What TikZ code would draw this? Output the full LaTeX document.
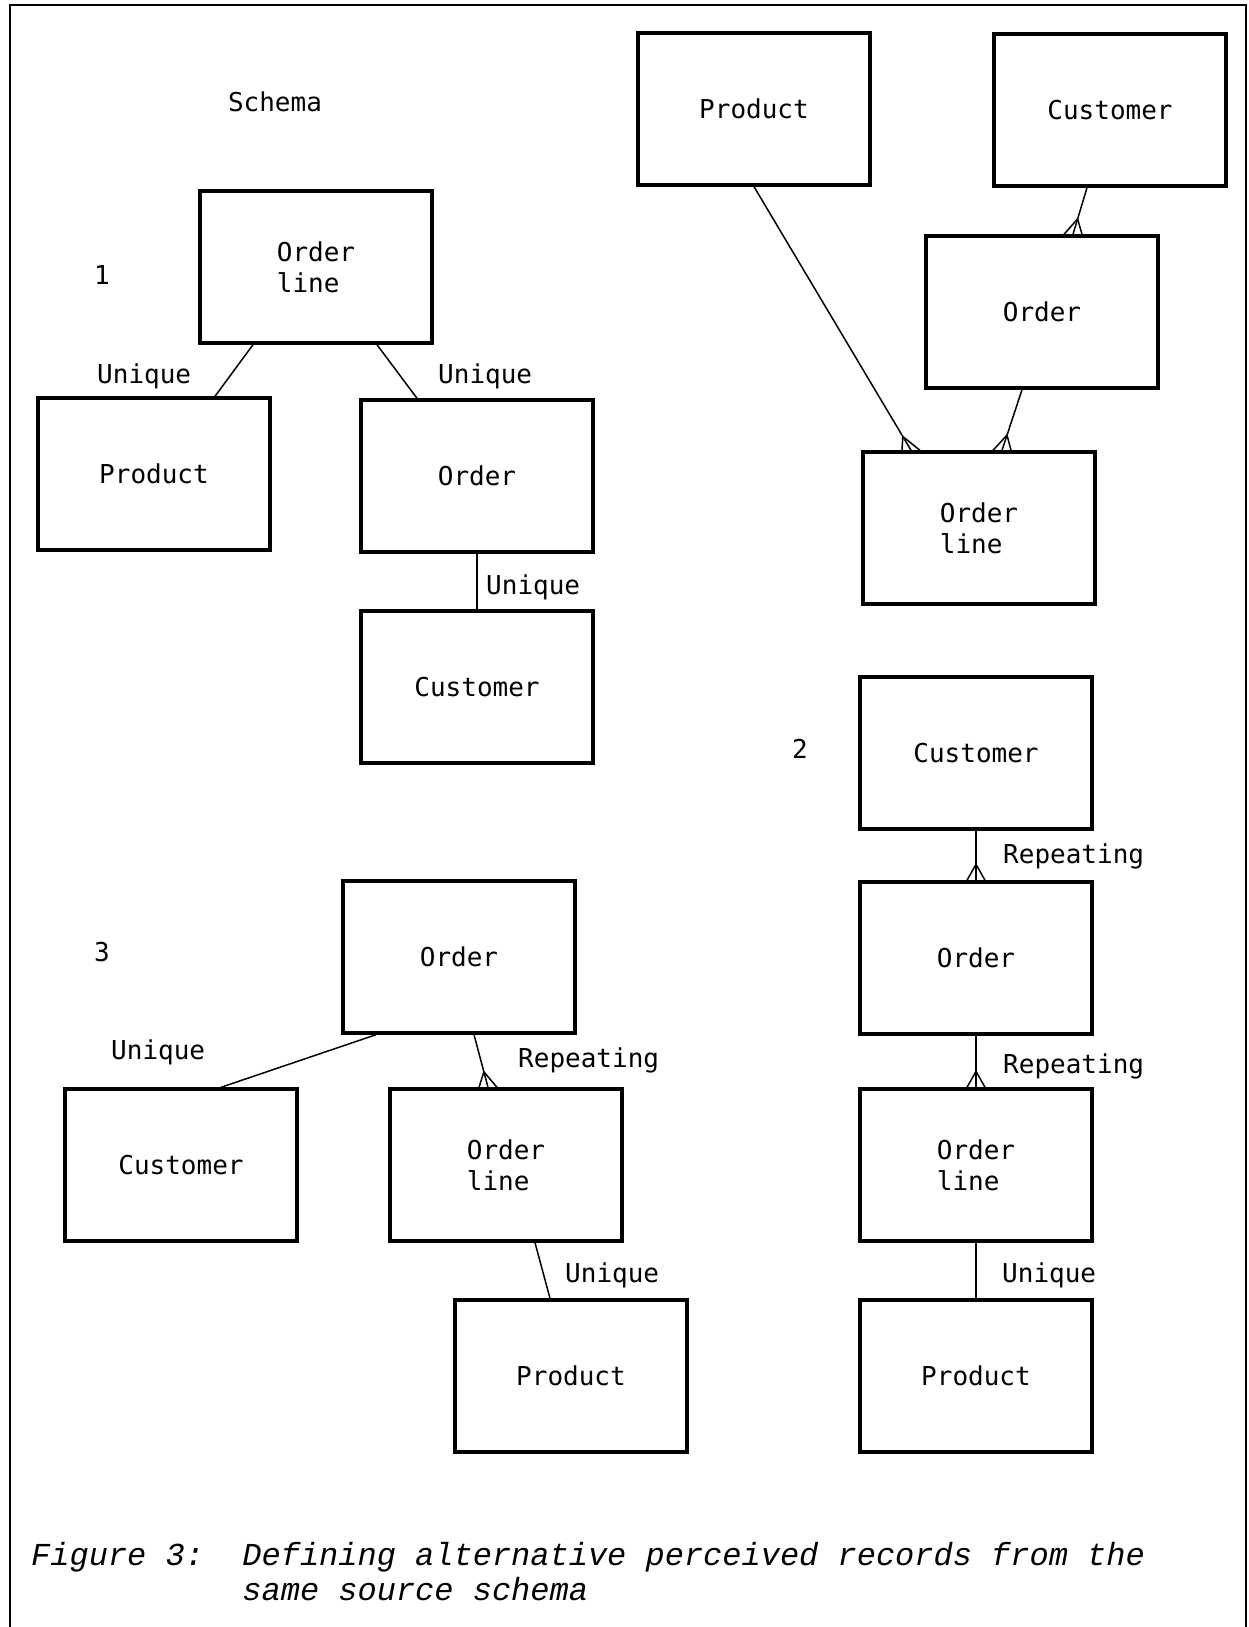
\documentclass[tikz,border=0pt]{standalone}
\usepackage{fontspec}
\newfontfamily\typer{DejaVu Sans Mono}
\newfontfamily\capfont{Liberation Mono}
\usetikzlibrary{calc}

\newcommand\crowfoot[2]{%
  \draw[link] ($(#1)!16pt!(#2)$) -- ([xshift=-9pt]#1)
              ($(#1)!16pt!(#2)$) -- ([xshift=9pt]#1);}

\begin{document}
\begin{tikzpicture}[x=1pt,y=-1pt,
    ent/.style={draw, line width=3.4pt, minimum width=232pt, minimum height=152pt,
      inner sep=0pt, align=left, font=\typer\fontsize{26}{31}\selectfont},
    lbl/.style={inner sep=0pt, font=\typer\fontsize{26}{31}\selectfont},
    link/.style={line width=1.5pt},
    frame/.style={line width=2pt}]

  \useasboundingbox (0,0) rectangle (1249,1627);
  \draw[frame] (10,1627) -- (10,5) -- (1246,5) -- (1246,1627);

  % source schema
  \node[lbl] (schema) at (275,102) {Schema};
  \node[ent] (prS) at (754,109) {Product};
  \node[ent] (cuS) at (1110,110) {Customer};
  \node[ent] (orS) at (1042,312) {Order};
  \node[ent] (olS) at (979,528) {Order\\line};

  \coordinate (fS1) at ([xshift=-68pt]olS.north);
  \coordinate (tS2) at ([xshift=-23pt]cuS.south);
  \coordinate (fS2) at ([xshift=31pt]orS.north);
  \coordinate (tS3) at ([xshift=-20pt]orS.south);
  \coordinate (fS3) at ([xshift=23pt]olS.north);
  \draw[link] (prS.south) -- (fS1); \crowfoot{fS1}{prS.south}
  \draw[link] (tS2) -- (fS2); \crowfoot{fS2}{tS2}
  \draw[link] (tS3) -- (fS3); \crowfoot{fS3}{tS3}

  % record 1
  \node[lbl] (n1) at (102,275) {1};
  \node[ent] (ol1) at (316,267) {Order\\line};
  \node[ent] (pr1) at (154,474) {Product};
  \node[ent] (or1) at (477,476) {Order};
  \node[ent] (cu1) at (477,687) {Customer};

  \draw[link] ([xshift=-63pt]ol1.south) -- ([xshift=61pt]pr1.north);
  \draw[link] ([xshift=61pt]ol1.south) -- ([xshift=-60pt]or1.north);
  \draw[link] (or1.south) -- (cu1.north);
  \node[lbl, anchor=west] (u1a) at (97,376) {Unique};
  \node[lbl, anchor=west] (u1b) at (438,376) {Unique};
  \node[lbl, anchor=west] (u1c) at (486,587) {Unique};

  % record 2
  \node[lbl] (n2) at (800,749) {2};
  \node[ent] (cu2) at (976,753) {Customer};
  \node[ent] (or2) at (976,958) {Order};
  \node[ent] (ol2) at (976,1165) {Order\\line};
  \node[ent] (pr2) at (976,1376) {Product};

  \draw[link] (cu2.south) -- (or2.north); \crowfoot{or2.north}{cu2.south}
  \draw[link] (or2.south) -- (ol2.north); \crowfoot{ol2.north}{or2.south}
  \draw[link] (ol2.south) -- (pr2.north);
  \node[lbl, anchor=west] (r2a) at (1003,856) {Repeating};
  \node[lbl, anchor=west] (r2b) at (1003,1066) {Repeating};
  \node[lbl, anchor=west] (u2) at (1002,1275) {Unique};

  % record 3
  \node[lbl] (n3) at (102,952) {3};
  \node[ent] (or3) at (459,957) {Order};
  \node[ent] (cu3) at (181,1165) {Customer};
  \node[ent] (ol3) at (506,1165) {Order\\line};
  \node[ent] (pr3) at (571,1376) {Product};

  \coordinate (t3) at ([xshift=15pt]or3.south);
  \coordinate (f3) at ([xshift=-18pt]ol3.north);
  \draw[link] ([xshift=-83pt]or3.south) -- ([xshift=40pt]cu3.north);
  \draw[link] (t3) -- (f3); \crowfoot{f3}{t3}
  \draw[link] ([xshift=29pt]ol3.south) -- ([xshift=-21pt]pr3.north);
  \node[lbl, anchor=west] (u3a) at (111,1052) {Unique};
  \node[lbl, anchor=west] (r3) at (518,1060) {Repeating};
  \node[lbl, anchor=west] (u3b) at (565,1275) {Unique};

  \node[anchor=north west, inner sep=0pt, align=left,
    font=\capfont\itshape\fontsize{32}{35}\selectfont] (caption) at (31,1542)
    {Figure 3:\ \ Defining alternative perceived records from the\\
     \phantom{Figure 3:\ \ }same source schema};
\end{tikzpicture}
\end{document}
